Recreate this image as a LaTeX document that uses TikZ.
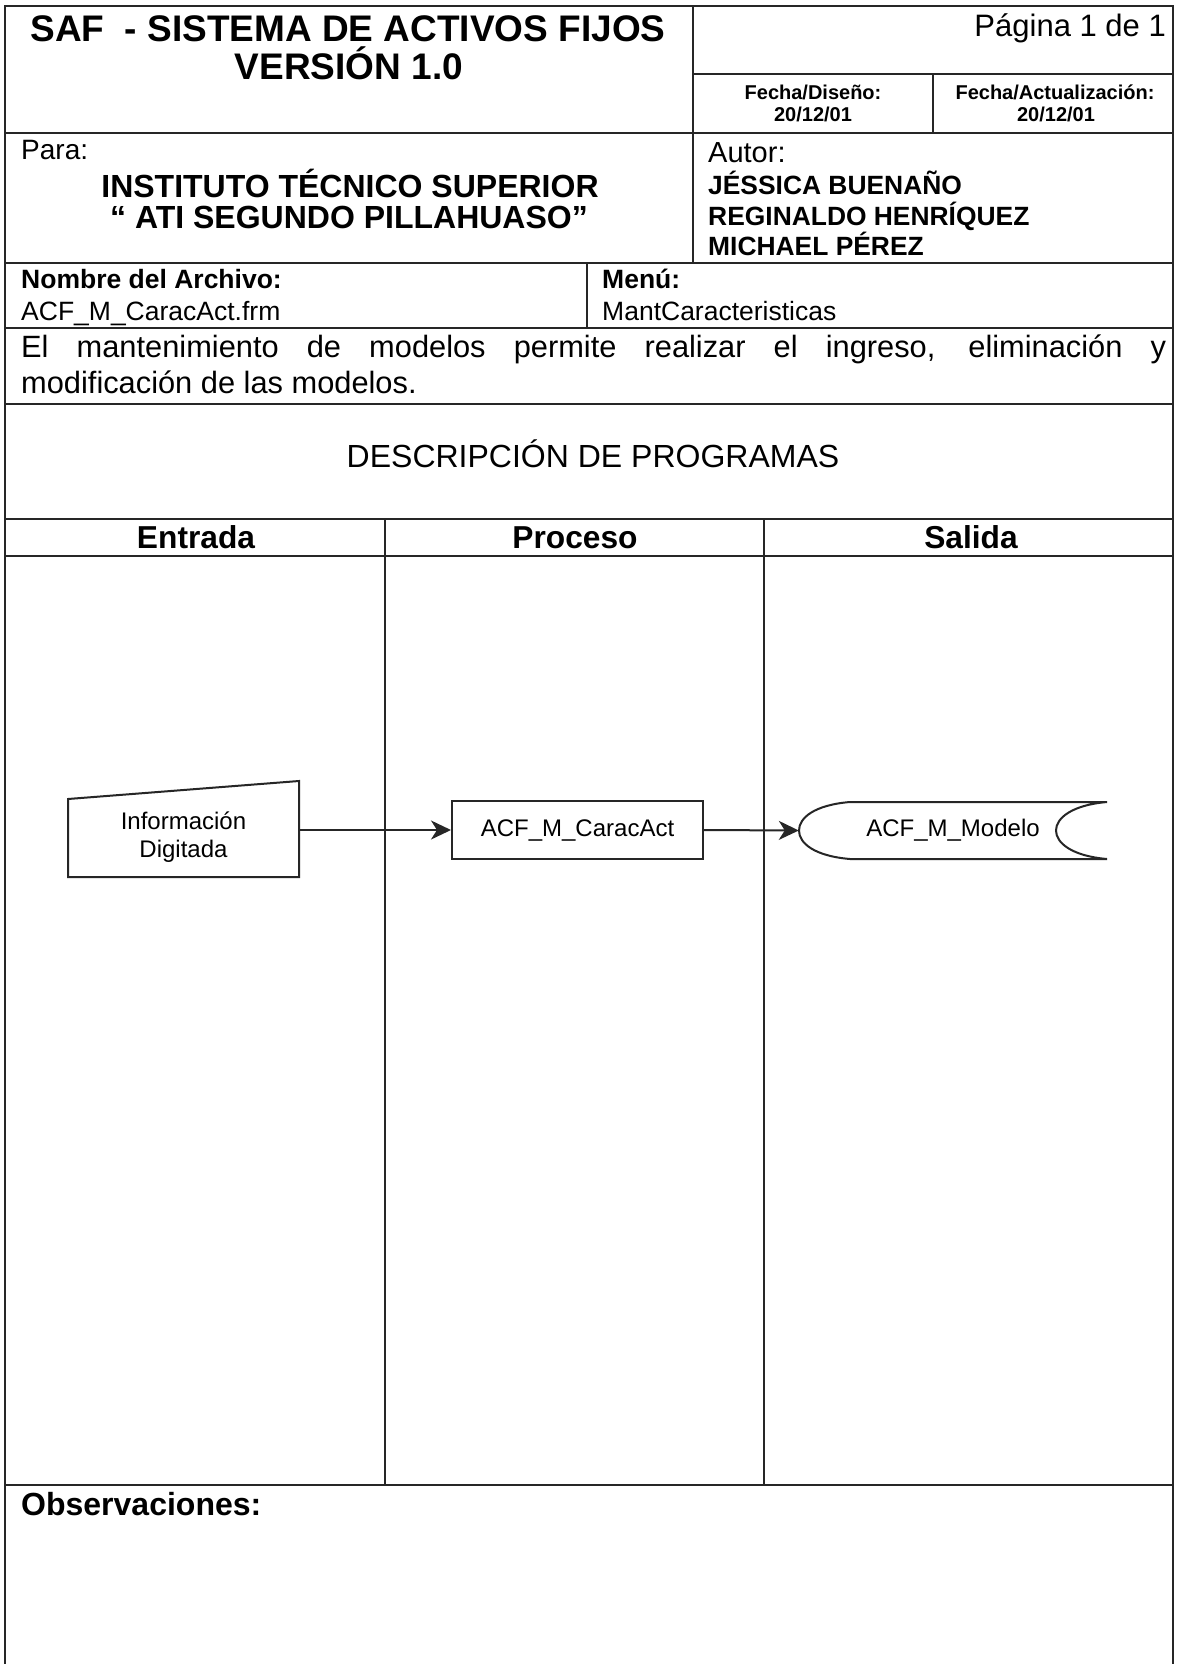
\documentclass[tikz,border=0pt]{standalone}
\usepackage{fontspec}
\setmainfont{Liberation Sans}
\usetikzlibrary{arrows.meta}
\begin{document}
\begin{tikzpicture}[x=1pt,y=-1pt,
  rule/.style={line width=2pt, draw=black!85},
  colrule/.style={line width=1.3pt, draw=black!85},
  shapeline/.style={line width=2pt, draw=black!85},
  arr/.style={line width=2pt, draw=black!85, -{Stealth[length=20pt,width=19pt,inset=6pt]}},
  txt/.style={inner sep=0pt, anchor=base},
  txtw/.style={inner sep=0pt, anchor=base west},
  txte/.style={inner sep=0pt, anchor=base east}
]
\useasboundingbox (0,0) rectangle (1176,1664);
\fill[white] (0,0) rectangle (1176,1664);

% ---- table frame ----
\draw[rule] (5,1664) -- (5,6) -- (1173,6) -- (1173,1664);
\draw[rule] (693,74) -- (1173,74);
\draw[rule] (5,133) -- (1173,133);
\draw[rule] (5,263) -- (1173,263);
\draw[rule] (5,328) -- (1173,328);
\draw[rule] (5,404) -- (1173,404);
\draw[rule] (5,519) -- (1173,519);
\draw[rule] (5,556) -- (1173,556);
\draw[rule] (5,1485) -- (1173,1485);
\draw[rule] (693,6) -- (693,263);
\draw[rule] (933,74) -- (933,133);
\draw[rule] (587,263) -- (587,328);
\draw[colrule] (385,519) -- (385,1485);
\draw[colrule] (764,519) -- (764,1485);

% ---- header ----
\node[txt, font=\fontsize{37}{44}\selectfont\bfseries] (title1) at (348,42) {SAF\ \ - SISTEMA DE ACTIVOS FIJOS};
\node[txt, font=\fontsize{37}{44}\selectfont\bfseries] (title2) at (349,80) {VERSIÓN 1.0};
\node[txte, font=\fontsize{31}{37}\selectfont] (pag) at (1166,37) {Página 1 de 1};
\node[txt, font=\fontsize{20}{24}\selectfont\bfseries] (fd) at (813,100) {Fecha/Diseño:};
\node[txt, font=\fontsize{20}{24}\selectfont\bfseries] (fdv) at (813,122) {20/12/01};
\node[txt, font=\fontsize{20}{24}\selectfont\bfseries] (fa) at (1055,100) {Fecha/Actualización:};
\node[txt, font=\fontsize{20}{24}\selectfont\bfseries] (fav) at (1056,122) {20/12/01};

\node[txtw, font=\fontsize{28}{33}\selectfont] (para) at (21,160) {Para:};
\node[txt, font=\fontsize{32}{38}\selectfont\bfseries] (inst1) at (350,197) {INSTITUTO TÉCNICO SUPERIOR};
\node[txt, font=\fontsize{32}{38}\selectfont\bfseries] (inst2) at (349,229) {“ ATI SEGUNDO PILLAHUASO”};
\node[txtw, font=\fontsize{29}{34}\selectfont] (autor) at (708,163) {Autor:};
\node[txtw, font=\fontsize{26.4}{31}\selectfont\bfseries] (a1) at (708,195) {JÉSSICA BUENAÑO};
\node[txtw, font=\fontsize{26.4}{31}\selectfont\bfseries] (a2) at (708,225) {REGINALDO HENRÍQUEZ};
\node[txtw, font=\fontsize{26.4}{31}\selectfont\bfseries] (a3) at (708,255) {MICHAEL PÉREZ};

\node[txtw, font=\fontsize{26.5}{31}\selectfont\bfseries] (nomL) at (21,288) {Nombre del Archivo:};
\node[txtw, font=\fontsize{26.5}{31}\selectfont] (nomV) at (21,320) {ACF\_M\_CaracAct.frm};
\node[txtw, font=\fontsize{26.5}{31}\selectfont\bfseries] (menL) at (602,288) {Menú:};
\node[txtw, font=\fontsize{26.5}{31}\selectfont] (menV) at (602,320) {MantCaracteristicas};

\node[txtw, text width=1145pt, align=justify, font=\fontsize{30.8}{36}\selectfont] (desc) at (21,357)
  {\hyphenpenalty=10000 El mantenimiento de modelos permite realizar el ingreso, eliminación y\linebreak modificación de las modelos.};

\node[txt, font=\fontsize{32}{38}\selectfont] (dp) at (593,467) {DESCRIPCIÓN DE PROGRAMAS};
\node[txt, font=\fontsize{31.7}{38}\selectfont\bfseries] (hEnt) at (196,548) {Entrada};
\node[txt, font=\fontsize{31.7}{38}\selectfont\bfseries] (hPro) at (575,548) {Proceso};
\node[txt, font=\fontsize{31.7}{38}\selectfont\bfseries] (hSal) at (971,548) {Salida};

\node[txtw, font=\fontsize{32}{38}\selectfont\bfseries] (obs) at (21,1515) {Observaciones:};

% ---- flow ----
\coordinate (inTL) at (68,799);
\coordinate (inTR) at (299,781);
\coordinate (inBR) at (299,877);
\coordinate (inBL) at (68,877);
\coordinate (inE) at (299,830);
\draw[shapeline] (inTL) -- (inTR) -- (inBR) -- (inBL) -- cycle;
\node[txt, text width=231pt, align=center, font=\fontsize{24}{28}\selectfont] (inp) at (183.5,829) {Información\\Digitada};

\node[shapeline, draw, minimum width=251pt, minimum height=58pt, inner sep=0pt,
  font=\fontsize{24}{28}\selectfont] (proc) at (577.5,830) {ACF\_M\_CaracAct};

\node[minimum width=308pt, minimum height=57pt, inner sep=0pt,
  font=\fontsize{24}{28}\selectfont] (out) at (953,830.5) {ACF\_M\_Modelo};
\draw[shapeline] (850,802) -- (1107,802)
  .. controls (1072,805) and (1056,818) .. (1056,830.5)
  .. controls (1056,843) and (1072,856) .. (1107,859)
  -- (850,859)
  .. controls (814,856) and (799,843) .. (799,830.5)
  .. controls (799,818) and (814,805) .. (850,802) -- cycle;

\draw[arr] (inE) -- (proc.west);
\draw[arr] (proc.east) -- (out.west);
\end{tikzpicture}
\end{document}
